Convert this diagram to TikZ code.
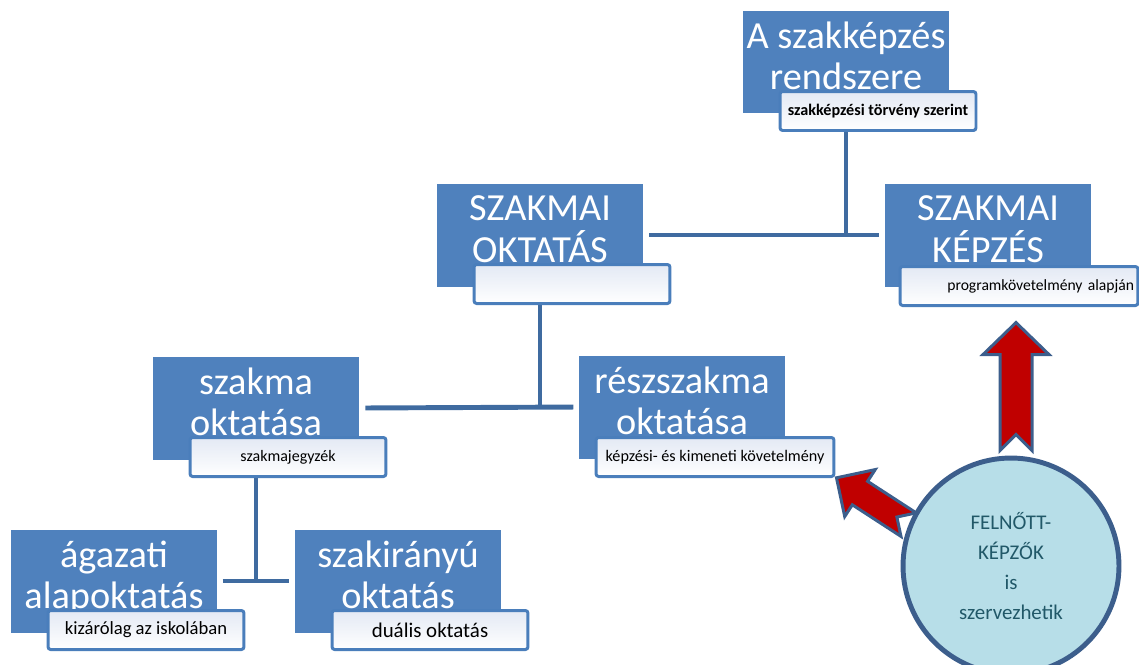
\documentclass[tikz,border=0pt]{standalone}
\usepackage{fontspec}
\setmainfont{Carlito}
\usetikzlibrary{calc, backgrounds}
\definecolor{boxblue}{HTML}{4F81BD}
\definecolor{linkblue}{HTML}{3F6BA0}
\definecolor{tagedge}{HTML}{4A7EBB}
\definecolor{tagtint}{HTML}{E3E9F4}
\definecolor{circlefill}{HTML}{B7DEE8}
\definecolor{circleedge}{HTML}{3C5E8C}
\definecolor{circletext}{HTML}{215868}
\definecolor{arrowred}{HTML}{C00000}

\begin{document}
\begin{tikzpicture}[
    x=0.02cm, y=-0.02cm,
    level/.style={rectangle, fill=boxblue, minimum width=4.12cm, minimum height=2.06cm, inner sep=0pt, align=center, text=white, font=\fontsize{21.8}{23.6}\selectfont, text depth=7pt},
    tag/.style={rectangle, draw=tagedge, line width=1.7pt, rounded corners=1.5pt, top color=tagtint, bottom color=white, minimum width=3.92cm, minimum height=0.78cm, inner sep=0pt, font=\fontsize{9.1}{11}\selectfont},
    widetag/.style={tag, minimum width=4.76cm},
    link/.style={draw=linkblue, line width=2.8pt},
    provider/.style={circle, draw=circleedge, fill=circlefill, line width=2.8pt, minimum size=4.32cm, align=center, text=circletext, font=\fontsize{11.9}{17}\selectfont},
    blockarrow/.style={draw=circleedge, fill=arrowred, line width=1.7pt, line join=miter}
]
\useasboundingbox (0,0) rectangle (1139,664);
\clip (0,0) rectangle (1139,664);

% top level
\node[level] (rend) at (846,62) {A szakképzés\\rendszere};
\node[tag, font=\fontsize{9.2}{11}\selectfont\bfseries] (rendtag) at (878,111) {szakképzési törvény szerint};

% second level
\node[level] (okt) at (540,235) {SZAKMAI\\OKTATÁS};
\node[tag] (okttag) at (572,284) {};
\node[level] (kepz) at (988,235) {SZAKMAI\\KÉPZÉS};
\node[widetag, text width=4.6cm, align=right, font=\fontsize{8.9}{11}\selectfont] (kepztag) at (1019,286) {programkövetelmény alapján};

% third level
\node[level] (szakma) at (256,408) {szakma\\oktatása};
\node[tag] (szakmatag) at (288,457) {szakmajegyzék};
\node[level] (resz) at (682,407) {részszakma\\oktatása};
\node[widetag, font=\fontsize{9.2}{11}\selectfont] (resztag) at (715,457) {képzési- és kimeneti követelmény};

% fourth level
\node[level] (ag) at (114,581) {ágazati\\alapoktatás};
\node[tag, font=\fontsize{10.6}{12}\selectfont] (agtag) at (146,630) {kizárólag az iskolában};
\node[level] (szi) at (398,581) {szakirányú\\oktatás};
\node[tag, font=\fontsize{11.9}{13}\selectfont] (szitag) at (430,630) {duális oktatás};

% adult education
\node[provider] (felnott) at (1011,566) {FELNŐTT-\\KÉPZŐK\\is\\szervezhetik};

\begin{scope}[on background layer]
% tree lines
\draw[link] (rend.center) -- (rend.center |- okt.east);
\draw[link, shorten <=3.5pt, shorten >=3pt] (okt.east) -- (kepz.west);
\draw[link] (okt.center) -- (okt.center |- szakma.east);
\draw[link, shorten <=3.5pt, shorten >=3pt] (szakma.east) -- (resz.west);
\draw[link] (szakma.center) -- (szakma.center |- ag.east);
\draw[link, shorten <=3pt, shorten >=3pt] (ag.east) -- (szi.west);

% red arrows
\draw[blockarrow, shift={($(felnott.north)+(5,0)$)}] (-16,-5) -- (-16,-101) -- (-33,-101) -- (0,-133) -- (33,-101) -- (16,-101) -- (16,-5) -- (0,-21) -- cycle;
\draw[blockarrow, shift={(felnott.158)}, rotate=57] (-14,0) -- (-14,-58) -- (-28,-58) -- (0,-86) -- (28,-58) -- (14,-58) -- (14,0) -- (0,-14) -- cycle;
\end{scope}

\end{tikzpicture}
\end{document}
